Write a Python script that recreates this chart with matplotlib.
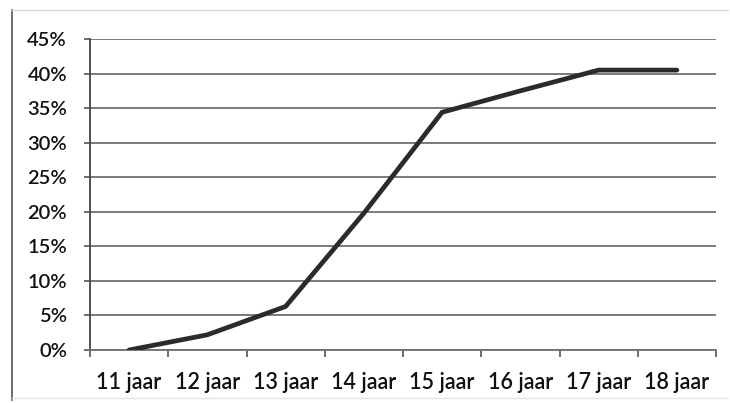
import matplotlib
matplotlib.use("Agg")
import matplotlib.pyplot as plt
from matplotlib.ticker import FuncFormatter, FixedLocator
from matplotlib.lines import Line2D

categories = ["11 jaar", "12 jaar", "13 jaar", "14 jaar", "15 jaar", "16 jaar", "17 jaar", "18 jaar"]
values = [0.0, 2.2, 6.3, 19.8, 34.4, 37.5, 40.5, 40.5]
yticks = [0, 5, 10, 15, 20, 25, 30, 35, 40, 45]

plt.rcParams['font.family'] = ['Lato', 'DejaVu Sans']

fig = plt.figure(figsize=(7.3, 4.03), dpi=100)
ax = fig.add_axes([90/730, 1 - 350/403, (716-90)/730, (350-39)/403])

x = list(range(len(categories)))
ax.plot(x, values, color="#2b2b2b", linewidth=3.4, solid_capstyle="round", zorder=3)

ax.set_xlim(-0.5, len(categories) - 0.5)
ax.set_ylim(0, 45)
ax.set_yticks(yticks)
ax.yaxis.set_major_formatter(FuncFormatter(lambda v, p: f"{int(v)}%"))
ax.yaxis.grid(True, color="#707070", linewidth=1.3)
ax.set_axisbelow(True)

ax.set_xticks(x)
ax.set_xticklabels(categories)
ax.xaxis.set_minor_locator(FixedLocator([i - 0.5 for i in range(len(categories) + 1)]))
ax.tick_params(axis="x", which="major", length=0, pad=16, labelsize=15.5, colors="#111111")
ax.tick_params(axis="x", which="minor", length=5, width=1.2, color="#555555")
ax.tick_params(axis="y", length=4, width=1.2, color="#555555", pad=12.5, labelsize=14.5, labelcolor="#111111")
for lab in ax.get_xticklabels() + ax.get_yticklabels():
    lab.set_fontweight("semibold")

for s in ["top", "right"]:
    ax.spines[s].set_visible(False)
ax.spines["left"].set_color("#444444")
ax.spines["left"].set_linewidth(1.3)
ax.spines["bottom"].set_color("#707070")
ax.spines["bottom"].set_linewidth(1.3)

# outer chart frame: strong left edge, faint top/bottom
fig.lines.append(Line2D([12/730, 12/730], [1 - 400/403, 1 - 10/403], transform=fig.transFigure,
                        color="#555555", linewidth=1.2))
fig.lines.append(Line2D([12/730, 728/730], [1 - 10/403, 1 - 10/403], transform=fig.transFigure,
                        color="#d8d8d8", linewidth=1.0))
fig.lines.append(Line2D([12/730, 728/730], [1 - 398/403, 1 - 398/403], transform=fig.transFigure,
                        color="#e4e4e4", linewidth=1.0))

fig.savefig("out.png", dpi=100)
